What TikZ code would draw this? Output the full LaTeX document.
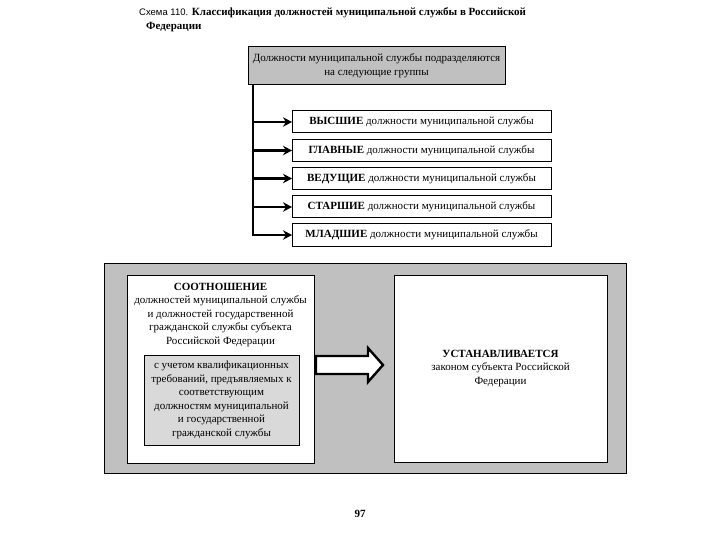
\documentclass[tikz,border=0pt]{standalone}
\usepackage{fontspec}
\setmainfont{Liberation Serif}
\newfontfamily\sansf{Liberation Sans}
\usetikzlibrary{arrows.meta}
\definecolor{outergray}{HTML}{C0C0C0}
\definecolor{innergray}{HTML}{D9D9D9}
\begin{document}
\begin{tikzpicture}[x=1pt,y=-1pt,
  font=\fontsize{11}{13.5}\selectfont,
  box/.style={draw=black, line width=1pt, rectangle, anchor=north west, outer sep=0pt, inner sep=2pt, align=center},
  grp/.style={box, fill=white, minimum width=259pt, minimum height=22pt},
  conn/.style={line width=2.6pt, -{Stealth[length=9pt,width=9.5pt]}},
  spine/.style={line width=2pt}
]
\useasboundingbox (0,0) rectangle (720,540);

% title
\node[anchor=north west, align=left, inner sep=0pt, font=\fontsize{11}{14.5}\selectfont] (title) at (139,7)
  {{\sansf\fontsize{9.5}{14.5}\selectfont Схема 110.} \textbf{Классификация должностей муниципальной службы в Российской}\\\hspace*{7pt}\textbf{Федерации}};

% top box
\node[box, fill=outergray, minimum width=257pt, minimum height=38pt] (top) at (248,47)
  {Должности муниципальной службы подразделяются\\на следующие группы};

% groups
\node[grp] (g1) at (292,111) {\textbf{ВЫСШИЕ} должности муниципальной службы};
\node[grp] (g2) at (292,139.5) {\textbf{ГЛАВНЫЕ} должности муниципальной службы};
\node[grp] (g3) at (292,167.5) {\textbf{ВЕДУЩИЕ} должности муниципальной службы};
\node[grp] (g4) at (292,196) {\textbf{СТАРШИЕ} должности муниципальной службы};
\node[grp] (g5) at (292,224) {\textbf{МЛАДШИЕ} должности муниципальной службы};

\coordinate (s0) at (253,85);
\coordinate (s1) at (253,236);
\draw[spine] (s0) -- (s1);
\foreach \g in {g1,g2,g3,g4,g5}
  \draw[conn] (s0 |- \g.west) -- (\g.west);

% lower panel
\node[box, fill=outergray, minimum width=522pt, minimum height=210pt] (panel) at (104,263) {};
\node[box, fill=white, minimum width=187pt, minimum height=188pt] (left) at (127,275) {};
\node[anchor=north, align=center, inner sep=0pt] (ltext) at (220.5,283)
  {\textbf{СООТНОШЕНИЕ}\\должностей муниципальной службы\\и должностей государственной\\гражданской службы субъекта\\Российской Федерации};
\node[box, fill=innergray, minimum width=155pt, minimum height=90pt] (cond) at (144,355)
  {с учетом квалификационных\\требований, предъявляемых к\\соответствующим\\должностям муниципальной\\и государственной\\гражданской службы};
\node[box, fill=white, minimum width=213pt, minimum height=187pt] (right) at (394,275)
  {\textbf{УСТАНАВЛИВАЕТСЯ}\\законом субъекта Российской\\Федерации};

% block arrow
\draw[line width=2.4pt, fill=white, line join=miter]
  (316,356) -- (368,356) -- (368,348) -- (383,365) -- (368,382) -- (368,374) -- (316,374) -- cycle;

% page number
\node[font=\bfseries\fontsize{11}{12}\selectfont] (page) at (360,514) {97};
\end{tikzpicture}
\end{document}
